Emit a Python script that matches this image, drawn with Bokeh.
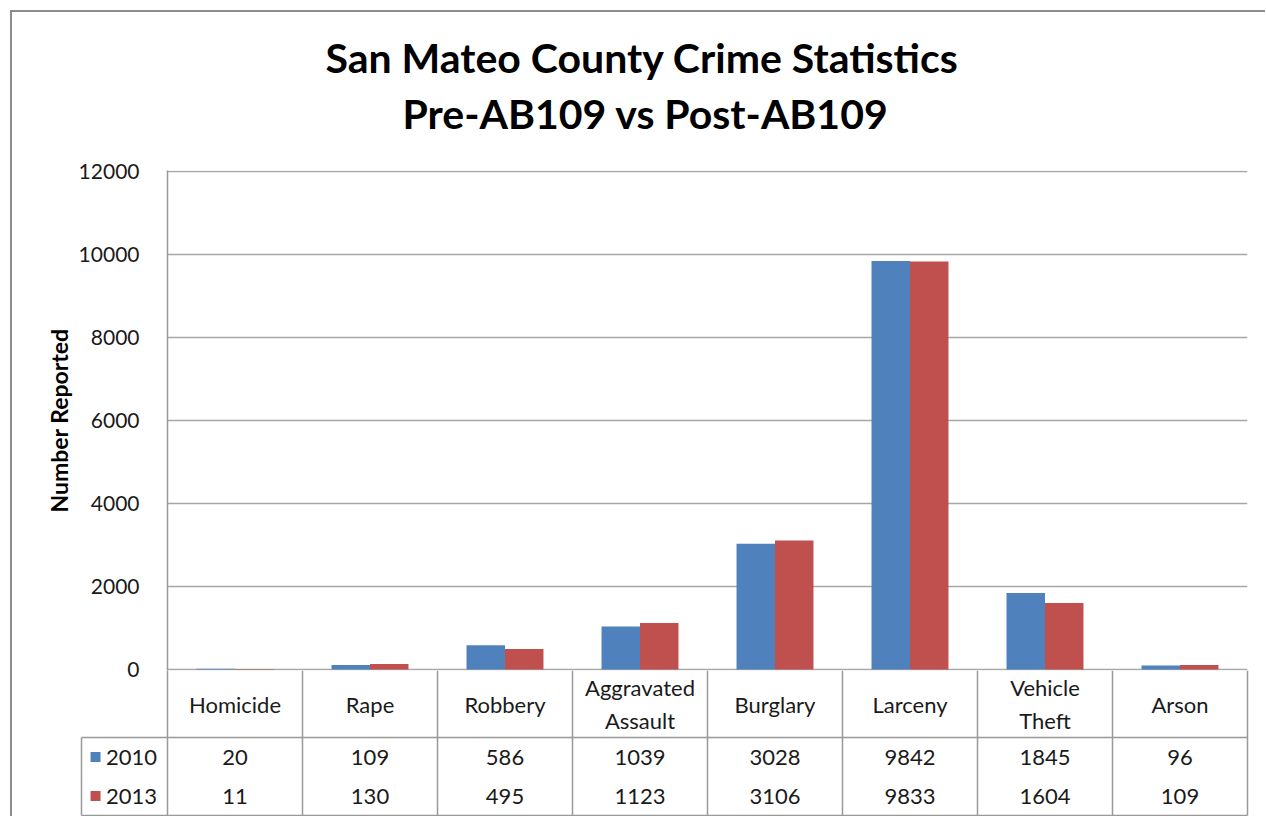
from bokeh.plotting import figure
from bokeh.layouts import column
from bokeh.models import ColumnDataSource, FactorRange, Range1d, FixedTicker, NumeralTickFormatter, Title
from bokeh.transform import dodge
from bokeh.core.properties import value
from bokeh.embed import file_html
from bokeh.resources import INLINE

# ---------------- data ----------------
categories = ["Homicide", "Rape", "Robbery", "Aggravated Assault", "Burglary",
              "Larceny", "Vehicle Theft", "Arson"]
category_labels = ["Homicide", "Rape", "Robbery", "Aggravated\nAssault", "Burglary",
                   "Larceny", "Vehicle\nTheft", "Arson"]
series_names = ["2010", "2013"]
values_2010 = [20, 109, 586, 1039, 3028, 9842, 1845, 96]
values_2013 = [11, 130, 495, 1123, 3106, 9833, 1604, 109]
y_ticks = [0, 2000, 4000, 6000, 8000, 10000, 12000]
title_line1 = "San Mateo County Crime Statistics"
title_line2 = "Pre-AB109 vs Post-AB109"
y_label = "Number Reported"

# ---------------- style ----------------
FONT = "Lato"
BLUE = "#4F81BD"
RED = "#C0504D"
GRID = "#a6a6a6"
LINE = "#999999"
TEXT = "#1a1a1a"
W = 1253

# ---------------- chart ----------------
src = ColumnDataSource(dict(cat=categories, v2010=values_2010, v2013=values_2013))

p = figure(x_range=FactorRange(factors=categories), y_range=Range1d(-24, 12024),
           width=W, height=670, output_backend="svg", toolbar_location=None,
           x_axis_location=None, min_border_left=155, min_border_right=18,
           min_border_top=158, min_border_bottom=12, frame_align=False)
p.outline_line_color = None
p.background_fill_color = None
p.border_fill_color = None
p.xgrid.visible = False
p.ygrid.ticker = FixedTicker(ticks=y_ticks)
p.ygrid.grid_line_color = GRID
p.ygrid.grid_line_width = 1.5

ax = p.yaxis[0]
ax.ticker = FixedTicker(ticks=y_ticks)
ax.formatter = NumeralTickFormatter(format="0")
ax.major_tick_line_color = None
ax.minor_tick_line_color = None
ax.axis_line_color = LINE
ax.axis_line_width = 1.5
ax.major_label_standoff = 22
ax.major_label_text_font = FONT
ax.major_label_text_font_size = "21px"
ax.major_label_text_color = TEXT
ax.axis_label = y_label
ax.axis_label_text_font = FONT
ax.axis_label_text_font_size = "23px"
ax.axis_label_text_font_style = "bold"
ax.axis_label_text_color = "#000000"
ax.axis_label_standoff = 3

bw = 0.285
p.vbar(x=dodge("cat", -bw / 2, range=p.x_range), top="v2010", width=bw, source=src,
       fill_color=BLUE, line_color=None)
p.vbar(x=dodge("cat", bw / 2, range=p.x_range), top="v2013", width=bw, source=src,
       fill_color=RED, line_color=None)

# titles: spacer (nearest the plot), second line, then the main line (outermost)
p.add_layout(Title(text=" ", text_font_size="1px", standoff=28), "above")
p.add_layout(Title(text=title_line2, align="left", offset=235, text_font=FONT,
                   text_font_size="41px", text_font_style="bold", text_color="#000000",
                   standoff=4),
             "above")
p.title.text = title_line1
p.title.align = "left"
p.title.offset = 158
p.title.text_font = FONT
p.title.text_font_size = "41px"
p.title.text_font_style = "bold"
p.title.text_color = "#000000"
p.title.standoff = 5

# ---------------- data table ----------------
n = len(categories)
left_col = 86 / 135  # width of legend column in category units
t = figure(x_range=Range1d(-88 / 135, n + 2 / 135), y_range=Range1d(0, 146),
           width=W, height=146, output_backend="svg", toolbar_location=None,
           x_axis_location=None, y_axis_location=None, min_border_left=67,
           min_border_right=16, min_border_top=0, min_border_bottom=0,
           frame_align=False, styles={"margin-top": "-12px"})
t.outline_line_color = None
t.background_fill_color = None
t.border_fill_color = None
t.xgrid.visible = False
t.ygrid.visible = False

row_top = 146
cat_bottom = 79
row_mid = 40
bottom = 1

xs = list(range(n + 1))
t.segment(x0=xs, y0=[bottom] * len(xs), x1=xs, y1=[row_top] * len(xs),
          line_color=LINE, line_width=1.5)
t.segment(x0=[-left_col, -left_col, -left_col], y0=[bottom, cat_bottom, bottom],
          x1=[-left_col, n, n], y1=[cat_bottom, cat_bottom, bottom],
          line_color=LINE, line_width=1.5)

centers = [i + 0.5 for i in range(n)]
tf = value(FONT)
t.text(x=centers, y=[(cat_bottom + row_top) / 2] * n, text=category_labels,
       text_align="center", text_baseline="middle", text_font=tf,
       text_font_size="22px", text_color=TEXT, text_line_height=1.2)
t.text(x=centers, y=[(row_mid + cat_bottom) / 2] * n, text=[str(v) for v in values_2010],
       text_align="center", text_baseline="middle", text_font=tf,
       text_font_size="22px", text_color=TEXT)
t.text(x=centers, y=[(bottom + row_mid) / 2] * n, text=[str(v) for v in values_2013],
       text_align="center", text_baseline="middle", text_font=tf,
       text_font_size="22px", text_color=TEXT)

key_y = [(row_mid + cat_bottom) / 2, (bottom + row_mid) / 2]
t.scatter(x=[-0.533, -0.533], y=key_y, marker="square", size=10,
          fill_color=[BLUE, RED], line_color=None)
t.text(x=[-0.455, -0.455], y=key_y, text=series_names, text_align="left",
       text_baseline="middle", text_font=tf, text_font_size="22px", text_color=TEXT)

layout = column(p, t, spacing=0,
                styles={"margin": "10px 0 0 10px",
                        "border-left": "2px solid #8c8c8c",
                        "border-top": "2px solid #8c8c8c"})

open("out.html", "w").write(file_html(layout, INLINE))
